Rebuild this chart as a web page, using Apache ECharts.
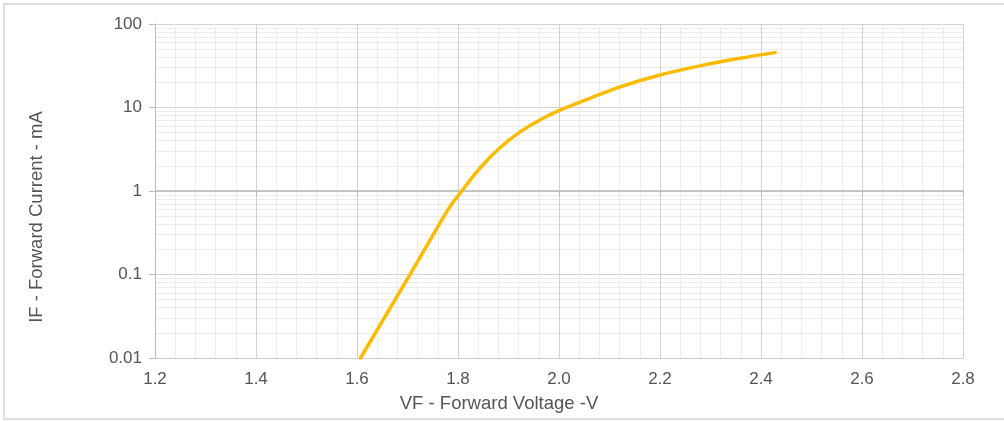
<!DOCTYPE html>
<html>
<head>
<meta charset="utf-8">
<script src="https://cdn.jsdelivr.net/npm/echarts@6/dist/echarts.min.js"></script>
<style>
html,body{margin:0;padding:0;background:#fff;}
#chart{width:1004px;height:421px;}
</style>
</head>
<body>
<div id="chart"></div>
<script>
// Forward voltage (V) and forward current (mA)
const voltage = [1.607, 1.705, 1.748, 1.784, 1.804, 1.844, 1.883, 1.923, 1.962, 2.002, 2.061, 2.121, 2.200, 2.279, 2.358, 2.428];
const current = [0.01, 0.1, 0.28, 0.65, 0.94, 1.9, 3.3, 5.1, 7.1, 9.3, 12.9, 17.7, 24.5, 31.5, 38.8, 45.4];

// Axis ticks
const xMin = 1.2, xMax = 2.8, xStep = 0.2;
const yMin = 0.01, yMax = 100;
const yMinorGrid = [0.02,0.03,0.04,0.05,0.06,0.07,0.08,0.09,
                    0.2,0.3,0.4,0.5,0.6,0.7,0.8,0.9,
                    2,3,4,5,6,7,8,9,
                    20,30,40,50,60,70,80,90];

const xName = 'VF - Forward Voltage -V';
const yName = 'IF - Forward Current - mA';

const labelColor = '#555';
const fontFamily = '"Liberation Sans", Arial, sans-serif';

const chart = echarts.init(document.getElementById('chart'), null, {renderer: 'canvas'});
const pts = voltage.map((v, i) => [v, current[i]]);

chart.setOption({
  animation: false,
  backgroundColor: '#fff',
  grid: [
    {left: 155, right: 41, top: 24, bottom: 63},
    {left: 155, right: 41, top: 24, height: 167}
  ],
  xAxis: [
    {
      type: 'value', gridIndex: 0, min: xMin, max: xMax, interval: xStep,
      axisLine: {show: true, lineStyle: {color: '#ccc', width: 1}},
      axisTick: {show: false},
      axisLabel: {color: labelColor, fontSize: 17, fontFamily: fontFamily, margin: 13,
                  formatter: v => v.toFixed(1)},
      splitLine: {show: true, lineStyle: {color: '#d2d2d2', width: 1}},
      minorTick: {show: false, splitNumber: 5},
      minorSplitLine: {show: true, lineStyle: {color: '#ececec', width: 1}}
    },
    {
      type: 'value', gridIndex: 1, min: xMin, max: xMax, interval: xStep,
      axisLine: {show: true, lineStyle: {color: '#bbb', width: 1.5}},
      axisTick: {show: true, length: 5, lineStyle: {color: '#bbb', width: 1}},
      axisLabel: {show: false},
      splitLine: {show: false}
    }
  ],
  yAxis: [
    {
      type: 'log', gridIndex: 0, logBase: 10, min: yMin, max: yMax,
      axisLine: {show: true, lineStyle: {color: '#bbb', width: 1}},
      axisTick: {show: true, length: 6, lineStyle: {color: '#bbb'}},
      axisLabel: {color: labelColor, fontSize: 17, fontFamily: fontFamily, margin: 13},
      splitLine: {show: true, lineStyle: {color: '#d2d2d2', width: 1}}
    },
    {type: 'value', gridIndex: 1, min: 0, max: 1, show: false}
  ],
  graphic: [
    {type: 'rect', shape: {x: 4, y: 4, width: 1100, height: 415},
     style: {fill: 'none', stroke: '#dedede', lineWidth: 2}, z: -10, silent: true},
    {type: 'text', x: 499, y: 404,
     style: {text: xName, fill: labelColor, fontSize: 18.5, fontFamily: fontFamily,
             align: 'center', verticalAlign: 'middle'}, silent: true},
    {type: 'text', x: 37, y: 217, rotation: Math.PI / 2,
     style: {text: yName, fill: labelColor, fontSize: 18.5, fontFamily: fontFamily,
             align: 'center', verticalAlign: 'middle'}, silent: true}
  ],
  series: [
    {
      type: 'line', xAxisIndex: 0, yAxisIndex: 0, data: [], silent: true,
      markLine: {
        silent: true, symbol: 'none', z: -1, animation: false,
        label: {show: false},
        lineStyle: {color: '#ececec', width: 1, type: 'solid'},
        data: yMinorGrid.map(v => ({yAxis: v}))
      }
    },
    {
      type: 'line', xAxisIndex: 0, yAxisIndex: 0,
      data: pts, showSymbol: false, smooth: 0.3,
      lineStyle: {color: '#FDBB00', width: 3.5, cap: 'round', join: 'round'},
      itemStyle: {color: '#FDBB00'},
      z: 10
    }
  ]
});
</script>
</body>
</html>
